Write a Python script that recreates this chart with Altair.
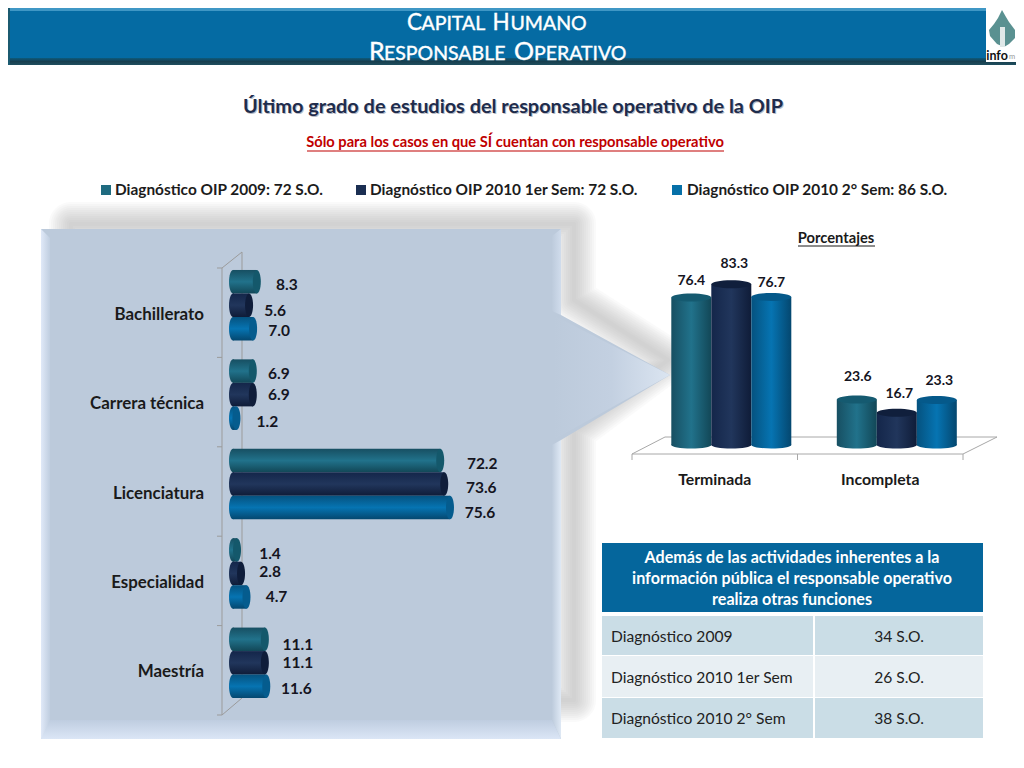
import altair as alt
import pandas as pd

# ---------- values ----------
series_names = ["Diagnóstico OIP 2009: 72 S.O.", "Diagnóstico OIP 2010 1er Sem: 72 S.O.", "Diagnóstico OIP 2010 2° Sem: 86 S.O."]
levels = ["Bachillerato", "Carrera técnica", "Licenciatura", "Especialidad", "Maestría"]
level_2009 = [8.3, 6.9, 72.2, 1.4, 11.1]
level_2010a = [5.6, 6.9, 73.6, 2.8, 11.1]
level_2010b = [7.0, 1.2, 75.6, 4.7, 11.6]
status = ["Terminada", "Incompleta"]
status_2009 = [76.4, 23.6]
status_2010a = [83.3, 16.7]
status_2010b = [76.7, 23.3]
table_rows = ["Diagnóstico 2009", "Diagnóstico 2010 1er Sem", "Diagnóstico 2010 2° Sem"]
table_vals = ["34 S.O.", "26 S.O.", "38 S.O."]
table_head = ["Además de las actividades inherentes a la", "información pública el responsable operativo", "realiza otras funciones"]

# ---------- layout / style (label nudges, as placed by hand in the original) ----------
FONT = "Lato"
OX, OY = 8, 8
left_dx = [[30, 26, 42, 33, 33], [26, 26, 37, 29, 33], [26, 31, 30, 30, 30]]
left_dy = [[3, 3, 3, 4, 6], [6, 0, 4, -1, 0], [2, 4, 5, 0, 3]]
right_dx = [[0, 1], [3, 2.5], [0, 2.5]]
right_dy = [[-16.5, -22.5], [-20, -19], [-14, -19]]
body = [("#174f62", "#21728b", "#124757"), ("#14264a", "#21365c", "#0f1c38"), ("#05527f", "#0674b2", "#04476f")]
cap = ["#14586b", "#0f1d3a", "#055c8e"]
top_cap = ["#155a70", "#101f3c", "#05598a"]
swatch = ["#1f6b80", "#1b2f52", "#0670a8"]
dummy = pd.DataFrame({"a": [0]})
layers = []


def X(v):
    return v - OX


def Y(v):
    return v - OY


def grad(stops, vertical=True):
    n = len(stops) - 1
    return alt.Gradient(
        gradient="linear",
        stops=[alt.GradientStop(color=c, offset=i / n) for i, c in enumerate(stops)],
        x1=0, y1=0, x2=0 if vertical else 1, y2=1 if vertical else 0,
    )


def rect(x0, y0, x1, y1, fill):
    layers.append(alt.Chart(dummy).mark_rect(fill=fill, opacity=1).encode(
        x=alt.value(X(x0)), x2=alt.value(X(x1)), y=alt.value(Y(y0)), y2=alt.value(Y(y1))))


def line(x0, y0, x1, y1, color="#9b9b9b", w=1.0):
    layers.append(alt.Chart(dummy).mark_rule(color=color, strokeWidth=w).encode(
        x=alt.value(X(x0)), x2=alt.value(X(x1)), y=alt.value(Y(y0)), y2=alt.value(Y(y1))))


def poly(points, fill=None, stroke=None, w=0, opacity=1.0):
    path = "M" + " L".join(f"{X(a)},{Y(b)}" for a, b in points) + " Z"
    kw = dict(shape=path, size=4, opacity=opacity, strokeJoin="round")
    if fill is not None:
        kw.update(filled=True, fill=fill)
    else:
        kw.update(filled=False, fillOpacity=0)
    if stroke is not None:
        kw.update(stroke=stroke, strokeWidth=w)
    else:
        kw.update(strokeWidth=0)
    layers.append(alt.Chart(dummy).mark_point(**kw).encode(x=alt.value(0), y=alt.value(0)))


def txt(s, x, y, size=14, bold=True, color="#1a1a1a", align="center"):
    layers.append(alt.Chart(pd.DataFrame({"t": [s]})).mark_text(
        font=FONT, fontSize=size, fontWeight="bold" if bold else "normal", color=color,
        align=align, baseline="middle").encode(x=alt.value(X(x)), y=alt.value(Y(y)), text="t:N"))


def ellipse(rx, ry):
    return f"M{-rx},0 A{rx},{ry} 0 1,0 {rx},0 A{rx},{ry} 0 1,0 {-rx},0 Z"


# ---------- header ----------
rect(0, 0, 1024, 11, "#3f97c5")
rect(0, 11, 1024, 58, "#056ba3")
rect(0, 58, 1024, 65, grad(["#0d5a7c", "#173f4f", "#1f4f5f"]))
rect(8, 0, 10, 65, "#1b5a70")
for pieces, base in (
    ([("C", 407, 22.5), ("APITAL", 421.5, 19.5), ("H", 492.5, 22.5), ("UMANO", 510.5, 19.5)], 30.3),
    ([("R", 369, 25), ("ESPONSABLE", 384, 19.5), ("O", 514, 25), ("PERATIVO", 534, 19.5)], 60),
):
    for s, x, size in pieces:
        layers.append(alt.Chart(pd.DataFrame({"t": [s]})).mark_text(
            font=FONT, fontSize=size, fontWeight="normal", color="white", align="left",
            stroke="white", strokeWidth=0.4,
            baseline="alphabetic").encode(x=alt.value(X(x)), y=alt.value(Y(base)), text="t:N"))
# logo
rect(986, 6, 1019, 62, "white")
poly([(1002, 10), (1006, 17), (1009, 22), (1015, 30), (1015, 38), (1009, 44), (1004, 47), (997, 44),
      (990, 36), (989, 30), (994, 24), (998, 18)], fill="#5a9191")
rect(1000, 27, 1005, 47, "#dfe8e8")
txt("info", 997, 56, 12.5, True, "#111111")
txt("m", 1012, 57, 7.5, False, "#999999")

# ---------- titles ----------
T1 = "Último grado de estudios del responsable operativo de la OIP"
txt(T1, 514, 108, 19.9, True, "#b8bcc6")
txt(T1, 513, 107, 19.9, True, "#1e2c4c")
txt("Sólo para los casos en que SÍ cuentan con responsable operativo", 515, 143, 14.7, True, "#c00000")
line(307, 151, 724, 151, "#c00000", 1.2)

# legend
for name, sx, tx, c in zip(series_names, (101, 356, 672), (115, 370, 687), swatch):
    rect(sx, 185, sx + 10, 195, c)
    txt(name, tx, 190, 15.4, True, "#1c1c1c", "left")

# ---------- panel, shadow, pointer ----------
shadow = [(71, 224), (574, 224), (574, 300), (668, 360), (574, 430), (574, 700), (71, 700)]
for w in range(44, 0, -4):
    poly(shadow, stroke="#aaaaaa", w=w, opacity=0.055)
poly([(41, 229), (561, 229), (561, 315), (670, 375), (561, 440), (561, 739), (41, 739), (49, 720)], fill="#bccadb")
poly([(553, 315), (670, 375), (553, 440)], fill=grad(["#bccadb", "#c3d0e1", "#dbe5f1"], False))
poly([(41, 229), (50, 238), (50, 730), (41, 739)], fill=grad(["#e0e9f8", "#c0cee0"], False))
poly([(41, 739), (50, 720), (552, 720), (561, 739)], fill=grad(["#bfcde0", "#dbe6f6"]))
poly([(552, 720), (552, 445), (561, 440), (561, 739)], fill=grad(["#bdcbdc", "#dfe9f5"], False))
poly([(552, 236), (561, 229), (561, 315), (552, 311)], fill=grad(["#bdcbdc", "#d0dcec"], False))

# ---------- left chart: data scales ----------
lx = alt.Scale(domain=[0, 100], range=[X(233), X(520)], nice=False, zero=False)
ly = alt.Scale(domain=[0, 5], range=[Y(268), Y(715)], nice=False, zero=False)
ROW = 0.263
PAD = 0.022

# wall of the axis
line(222, 268, 222, 715)
line(242, 252, 242, 698)
line(222, 268, 242, 252)
line(222, 715, 242, 698)
ticks = pd.DataFrame({"i": list(range(len(levels) + 1))})
layers.append(alt.Chart(ticks).mark_rule(color="#9b9b9b", strokeWidth=1).encode(
    y=alt.Y("i:Q", scale=ly, axis=None), x=alt.value(X(217)), x2=alt.value(X(222))))

cats = pd.DataFrame({"c": levels, "i": [k + 0.5 for k in range(len(levels))]})
layers.append(alt.Chart(cats).mark_text(font=FONT, fontSize=16.9, fontWeight="bold", color="#1a1a1a",
                                        align="right", baseline="middle", dy=2).encode(
    x=alt.value(X(204)), y=alt.Y("i:Q", scale=ly, axis=None), text="c:N"))

for s, vals in enumerate((level_2009, level_2010a, level_2010b)):
    df = pd.DataFrame({"v": vals, "z": [0] * len(vals), "i": range(len(vals))})
    df["y0"] = df.i + PAD + s * ROW
    df["y1"] = df.y0 + ROW
    df["yc"] = df.y0 + ROW / 2
    fill = grad(list(body[s]))
    layers.append(alt.Chart(df).mark_point(shape=ellipse(4, 11.75), size=4, filled=True, fill=fill, opacity=1, strokeWidth=0).encode(
        x=alt.X("z:Q", scale=lx, axis=None), y=alt.Y("yc:Q", scale=ly, axis=None)))
    layers.append(alt.Chart(df).mark_rect(fill=fill, opacity=1).encode(
        x=alt.X("z:Q", scale=lx, axis=None), x2="v:Q",
        y=alt.Y("y0:Q", scale=ly, axis=None), y2="y1:Q"))
    layers.append(alt.Chart(df).mark_point(shape=ellipse(4, 11.75), size=4, filled=True, fill=cap[s], opacity=1, strokeWidth=0).encode(
        x=alt.X("v:Q", scale=lx, axis=None), y=alt.Y("yc:Q", scale=ly, axis=None)))

for s, vals in enumerate((level_2009, level_2010a, level_2010b)):
    for i, v in enumerate(vals):
        d = pd.DataFrame({"v": [v], "yc": [i + PAD + (s + 0.5) * ROW]})
        layers.append(alt.Chart(d).mark_text(font=FONT, fontSize=15.5, fontWeight="bold", color="#15151f",
                                             baseline="middle", dx=left_dx[s][i], dy=left_dy[s][i]).encode(
            x=alt.X("v:Q", scale=lx, axis=None), y=alt.Y("yc:Q", scale=ly, axis=None),
            text=alt.Text("v:Q", format=".1f")))

# ---------- right chart ----------
rx = alt.Scale(domain=[0, 2], range=[X(632), X(963)], nice=False, zero=False)
ry = alt.Scale(domain=[0, 100], range=[Y(445), Y(252)], nice=False, zero=False)
STEP = 0.2417
DEPTH = 0.1
txt("Porcentajes", 836, 239, 14.7, True, "#1a1a1a")
line(798, 246, 875, 246, "#1a1a1a", 1)

line(632, 454, 963, 454, "#a8a8a8")
line(665, 437, 997, 437, "#a8a8a8")
line(632, 454, 665, 437, "#a8a8a8")
line(963, 454, 997, 437, "#a8a8a8")
rt = pd.DataFrame({"i": [0, 1, 2]})
layers.append(alt.Chart(rt).mark_rule(color="#a8a8a8", strokeWidth=1).encode(
    x=alt.X("i:Q", scale=rx, axis=None), y=alt.value(Y(454)), y2=alt.value(Y(460))))
sc = pd.DataFrame({"c": status, "i": [0.5, 1.5]})
layers.append(alt.Chart(sc).mark_text(font=FONT, fontSize=15.8, fontWeight="bold", color="#1a1a1a", baseline="middle").encode(
    x=alt.X("i:Q", scale=rx, axis=None), y=alt.value(Y(480)), text="c:N"))

for s, vals in enumerate((status_2009, status_2010a, status_2010b)):
    df = pd.DataFrame({"v": vals, "z": [0, 0], "i": [0, 1]})
    df["xc"] = df.i + 0.5 + DEPTH + (s - 1) * STEP
    df["x0"] = df.xc - STEP / 2
    df["x1"] = df.xc + STEP / 2
    fill = grad(list(body[s]), False)
    layers.append(alt.Chart(df).mark_point(shape=ellipse(20, 3.5), size=4, filled=True, fill=fill, opacity=1, strokeWidth=0).encode(
        x=alt.X("xc:Q", scale=rx, axis=None), y=alt.Y("z:Q", scale=ry, axis=None)))
    layers.append(alt.Chart(df).mark_rect(fill=fill, opacity=1).encode(
        x=alt.X("x0:Q", scale=rx, axis=None), x2="x1:Q",
        y=alt.Y("v:Q", scale=ry, axis=None), y2="z:Q"))
    layers.append(alt.Chart(df).mark_point(shape=ellipse(20, 4), size=4, filled=True, fill=top_cap[s], opacity=1, strokeWidth=0).encode(
        x=alt.X("xc:Q", scale=rx, axis=None), y=alt.Y("v:Q", scale=ry, axis=None)))
    for i, v in enumerate(vals):
        d = pd.DataFrame({"v": [v], "xc": [i + 0.5 + DEPTH + (s - 1) * STEP]})
        layers.append(alt.Chart(d).mark_text(font=FONT, fontSize=14, fontWeight="bold", color="#15151f",
                                             baseline="middle", dx=right_dx[s][i], dy=right_dy[s][i]).encode(
            x=alt.X("xc:Q", scale=rx, axis=None), y=alt.Y("v:Q", scale=ry, axis=None),
            text=alt.Text("v:Q", format=".1f")))

# ---------- table ----------
rect(602, 543, 983, 612, "#05669c")
for t, y in zip(table_head, (558, 579, 600)):
    txt(t, 792, y, 16.1, True, "white")
for k, (name, val, y0, y1, c) in enumerate(zip(table_rows, table_vals, (616, 656, 698), (655, 697, 738),
                                               ("#cadde6", "#e8eff3", "#cadde6"))):
    rect(602, y0, 813, y1, c)
    rect(815, y0, 983, y1, c)
    txt(name, 611, (y0 + y1) / 2 + 1, 15.6, False, "#222222", "left")
    txt(val, 899, (y0 + y1) / 2 + 1, 15.6, False, "#222222")

chart = alt.layer(*layers).resolve_scale(x="independent", y="independent").properties(
    width=1008, height=752, padding=0, autosize=alt.AutoSizeParams(type="none"), background="white"
).configure_view(stroke=None)

chart.save("out.html", embed_options={"renderer": "svg", "actions": False})
